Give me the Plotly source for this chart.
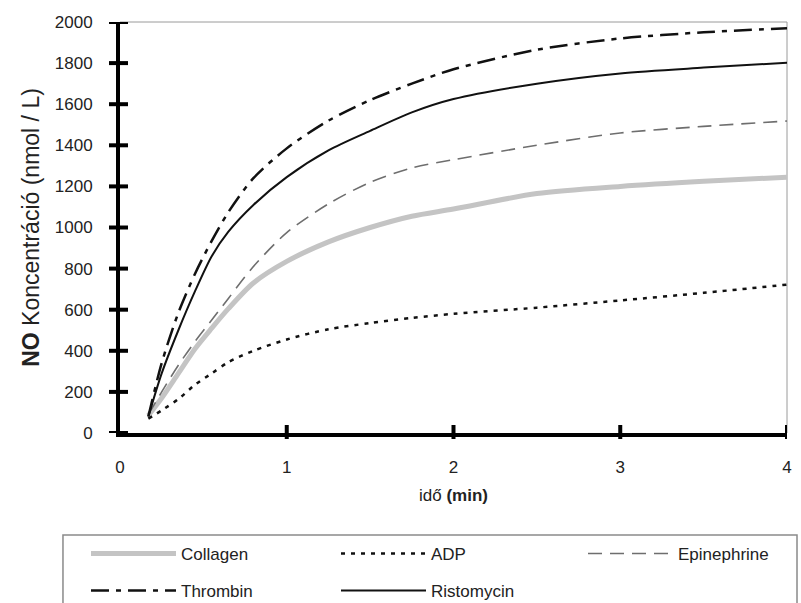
import plotly.graph_objects as go

# ---- data ----
time_min = [0.17, 0.25, 0.35, 0.45, 0.55, 0.65, 0.8, 1.0, 1.25, 1.5, 1.75, 2.0, 2.5, 3.0, 3.5, 4.0]

collagen    = [85, 170, 290, 410, 510, 605, 730, 835, 930, 1000, 1055, 1090, 1165, 1200, 1225, 1245]
adp         = [70, 110, 165, 235, 290, 345, 400, 455, 505, 535, 560, 580, 610, 645, 682, 722]
epinephrine = [90, 200, 330, 445, 550, 655, 810, 975, 1115, 1220, 1290, 1330, 1400, 1460, 1492, 1518]
thrombin    = [80, 340, 585, 775, 935, 1075, 1240, 1385, 1520, 1620, 1700, 1770, 1865, 1920, 1950, 1970]
ristomycin  = [80, 290, 500, 690, 860, 980, 1110, 1245, 1375, 1470, 1560, 1625, 1700, 1750, 1778, 1802]

series_names = ["Collagen", "ADP", "Epinephrine", "Thrombin", "Ristomycin"]
y_ticks = [0, 200, 400, 600, 800, 1000, 1200, 1400, 1600, 1800, 2000]
x_ticks = [0, 1, 2, 3, 4]

FONT = "Liberation Sans, Arial, sans-serif"

styles = {
    "Collagen":    dict(color="#c4c4c4", width=5, dash="solid"),
    "ADP":         dict(color="#111111", width=2.5, dash="4px,6px"),
    "Epinephrine": dict(color="#6e6e6e", width=1.6, dash="14px,8px"),
    "Thrombin":    dict(color="#111111", width=2.5, dash="18px,7px,5px,7px"),
    "Ristomycin":  dict(color="#111111", width=2, dash="solid"),
}
legend_ids = ["legend", "legend2", "legend3", "legend4", "legend5"]

fig = go.Figure()
for name, ys, lg in zip(series_names, [collagen, adp, epinephrine, thrombin, ristomycin], legend_ids):
    fig.add_trace(go.Scatter(
        x=time_min, y=ys, mode="lines", name=name, legend=lg,
        line=dict(shape="spline", smoothing=0.8, **styles[name]),
    ))

shapes = []
# crossing tick marks on the y axis
for v in y_ticks:
    shapes.append(dict(type="line", xref="paper", yref="y", xsizemode="pixel", xanchor=0,
                       x0=-11, x1=8, y0=v, y1=v, line=dict(color="black", width=4)))
# crossing tick marks on the x axis
for v in x_ticks[1:]:
    shapes.append(dict(type="line", xref="x", yref="paper", ysizemode="pixel", yanchor=0,
                       y0=-6, y1=8, x0=v, x1=v, line=dict(color="black", width=4)))
# thin frame top and right
shapes.append(dict(type="line", xref="paper", yref="paper", x0=0, x1=1, y0=1, y1=1,
                   line=dict(color="#9a9a9a", width=1), layer="below"))
shapes.append(dict(type="line", xref="paper", yref="paper", x0=1, x1=1, y0=0, y1=1,
                   line=dict(color="#9a9a9a", width=1), layer="below"))
# legend box (extends below the picture)
shapes.append(dict(type="rect", xref="paper", yref="paper", x0=-0.0855, x1=1.015,
                   y0=-0.45, y1=-0.248, line=dict(color="#8a8a8a", width=1.5),
                   fillcolor="rgba(0,0,0,0)", layer="below"))


def leg(xp, yp):
    return dict(
        xref="container", yref="container",
        x=xp, xanchor="left", y=yp, yanchor="top", orientation="h",
        bgcolor="rgba(0,0,0,0)", borderwidth=0, itemwidth=85,
        font=dict(family=FONT, size=17, color="#222222"),
    )


row1, row2 = 1 - 536 / 603, 1 - 573 / 603
col1, col2, col3 = 86 / 801, 336 / 801, 583 / 801
fig.update_layout(
    width=801, height=603,
    margin=dict(l=120, r=14, t=22, b=170, autoexpand=False),
    paper_bgcolor="white", plot_bgcolor="white",
    font=dict(family=FONT, size=17, color="#222222"),
    shapes=shapes,
    showlegend=True,
    legend=leg(col1, row1),
    legend2=leg(col2, row1),
    legend3=leg(col3, row1),
    legend4=leg(col1, row2),
    legend5=leg(col2, row2),
    xaxis=dict(
        range=[0, 4], tickvals=x_ticks, ticks="", showgrid=False, zeroline=False,
        showline=True, linecolor="black", linewidth=4,
        ticklabelstandoff=16,
        tickfont=dict(size=17),
        title=dict(text="idő <b>(min)</b>", font=dict(size=17), standoff=14),
    ),
    yaxis=dict(
        range=[0, 2000], tickvals=y_ticks, ticks="", showgrid=False, zeroline=False,
        showline=True, linecolor="black", linewidth=4,
        ticklabelstandoff=20,
        tickfont=dict(size=17),
        title=dict(text="<b>NO</b> Koncentráció (nmol / L)", font=dict(size=23), standoff=10),
    ),
)

fig.write_html("out.html")
